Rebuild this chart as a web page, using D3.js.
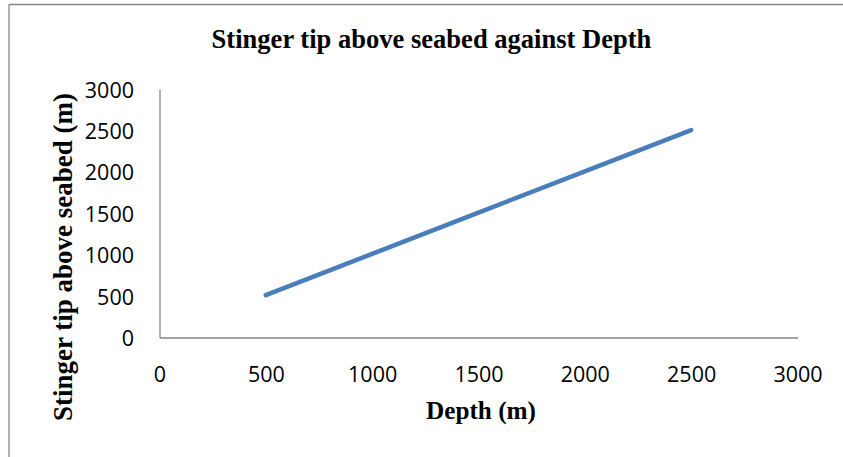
<!DOCTYPE html>
<html><head><meta charset="utf-8">
<script src="https://cdn.jsdelivr.net/npm/d3@7"></script>
<style>html,body{margin:0;padding:0;background:#fff;overflow:hidden}</style>
</head><body>
<svg id="chart" width="843" height="457"></svg>
<script>
const depth = [500, 1000, 1500, 2000, 2500];
const tipAboveSeabed = [512, 1010, 1508, 2006, 2504];
const xTicks = [0, 500, 1000, 1500, 2000, 2500, 3000];
const yTicks = [0, 500, 1000, 1500, 2000, 2500, 3000];
const titleText = "Stinger tip above seabed against Depth";
const xLabel = "Depth (m)";
const yLabel = "Stinger tip above seabed (m)";

const svg = d3.select("#chart");
const axisColor = "#868686";
const x = d3.scaleLinear().domain([0, 3000]).range([159.5, 797.5]);
const y = d3.scaleLinear().domain([0, 3000]).range([337.5, 89]);

// outer frame
svg.append("line").attr("x1", 9).attr("x2", 843).attr("y1", 4.5).attr("y2", 4.5)
  .attr("stroke", axisColor).attr("stroke-width", 1.3);
svg.append("line").attr("x1", 9).attr("x2", 9).attr("y1", 4.5).attr("y2", 457)
  .attr("stroke", axisColor).attr("stroke-width", 1.3);

const tickFont = "'Open Sans', sans-serif";
const xAxis = d3.axisBottom(x).tickValues(xTicks).tickSize(0).tickPadding(0).tickFormat(d3.format("d"));
const gx = svg.append("g").attr("transform", `translate(0,${y(0)})`).call(xAxis);
gx.select(".domain").attr("stroke", axisColor).attr("stroke-width", 1.3);
gx.selectAll("text").attr("dy", null).attr("y", 44).attr("fill", "#000")
  .style("font-family", tickFont).style("font-size", "21.5px");

const yAxis = d3.axisLeft(y).tickValues(yTicks).tickSize(0).tickPadding(0).tickFormat(d3.format("d"));
const gy = svg.append("g").attr("transform", `translate(${x(0)},0)`).call(yAxis);
gy.select(".domain").attr("stroke", axisColor).attr("stroke-width", 1.3);
gy.selectAll("text").attr("dy", null).attr("x", -25.5).attr("y", 8).attr("fill", "#000")
  .style("font-family", tickFont).style("font-size", "21.5px");

// line
const pts = depth.map((d, i) => [d, tipAboveSeabed[i]]);
svg.append("path").datum(pts)
  .attr("d", d3.line().x(d => x(d[0])).y(d => y(d[1])))
  .attr("fill", "none").attr("stroke", "#4A7EBB").attr("stroke-width", 4.5)
  .attr("stroke-linecap", "round").attr("stroke-linejoin", "round");

const serif = "'Liberation Serif', 'Times New Roman', serif";
function fitText(sel, w) {
  const n = sel.node();
  const cur = n.getComputedTextLength();
  const fs = parseFloat(sel.style("font-size"));
  sel.style("font-size", (fs * w / cur) + "px");
}
const t = svg.append("text").attr("x", 431.5).attr("y", 48).attr("text-anchor", "middle")
  .style("font-family", serif).style("font-weight", "bold").style("font-size", "20px").text(titleText);
fitText(t, 440);
const xl = svg.append("text").attr("x", 481).attr("y", 419).attr("text-anchor", "middle")
  .style("font-family", serif).style("font-weight", "bold").style("font-size", "20px").text(xLabel);
fitText(xl, 110);
const yl = svg.append("text").attr("transform", "translate(72,257) rotate(-90)").attr("text-anchor", "middle")
  .style("font-family", serif).style("font-weight", "bold").style("font-size", "20px").text(yLabel);
fitText(yl, 328);
</script>
</body></html>
